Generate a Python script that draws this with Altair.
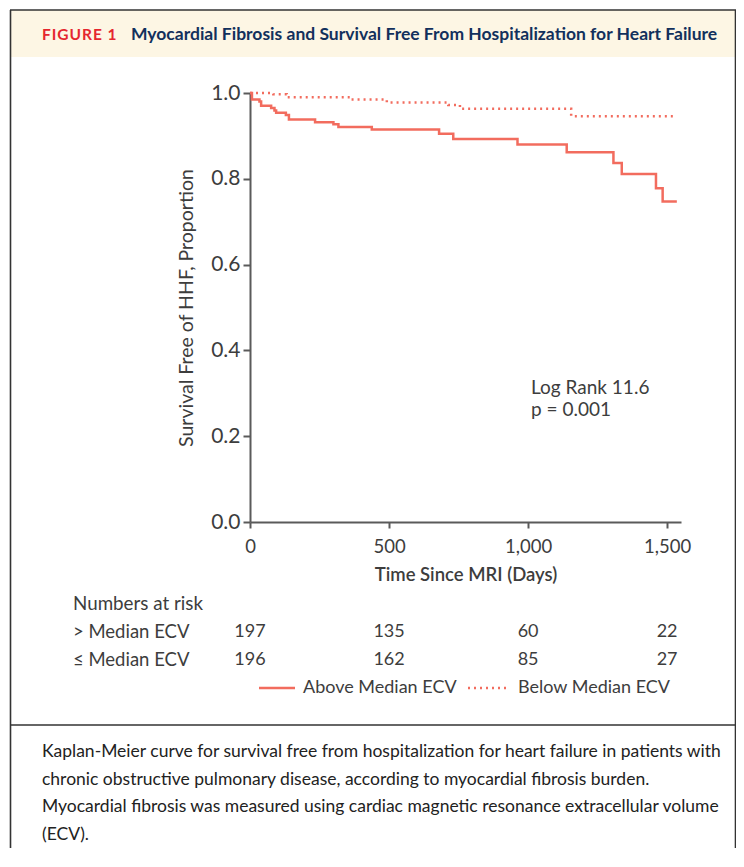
import altair as alt
import pandas as pd

# ---- data ----
above_days = [0, 7, 34, 40, 76, 88, 94, 129, 140, 234, 300, 318, 438, 680, 731, 962, 1139, 1307, 1337, 1460, 1484, 1535]
above_surv = [1.0, 0.985, 0.980, 0.970, 0.965, 0.959, 0.954, 0.949, 0.938, 0.932, 0.927, 0.921, 0.915, 0.905, 0.893, 0.880, 0.862, 0.837, 0.811, 0.778, 0.747, 0.747]
below_days = [0, 84, 132, 360, 492, 713, 755, 1155, 1535]
below_surv = [1.0, 0.997, 0.990, 0.985, 0.978, 0.972, 0.963, 0.946, 0.946]
groups = ["Above Median ECV", "Below Median ECV"]
risk_days = [0, 500, 1000, 1500]
risk_above = [197, 135, 60, 22]
risk_below = [196, 162, 85, 27]
y_ticks = [0.0, 0.2, 0.4, 0.6, 0.8, 1.0]
x_ticks = [0, 500, 1000, 1500]

curves = pd.DataFrame({
    "day": above_days + below_days,
    "surv": above_surv + below_surv,
    "group": [groups[0]] * len(above_days) + [groups[1]] * len(below_days),
})
risk_a = pd.DataFrame({"day": risk_days, "n": risk_above})
risk_b = pd.DataFrame({"day": risk_days, "n": risk_below})

RED = "#f26c5e"
TXT = "#3d3d3d"
AX = "#5a5a5a"
FONT = "Lato"
W, H = 431, 429
OX, OY = 250, 93  # page position of plot origin
DOT = [2, 4]


def px(x):
    return x - OX


def py(y):
    return y - OY


xs = alt.Scale(domain=[0, 1550], nice=False)
ys = alt.Scale(domain=[0, 1], nice=False)
x_axis = alt.Axis(values=x_ticks, format=",d", title=None, grid=False,
                  labelFontSize=18.5, labelColor=TXT, labelFont=FONT, labelFlush=False,
                  tickSize=6, tickWidth=2, tickColor=AX, domainColor=AX,
                  domainWidth=2, labelPadding=9)
y_axis = alt.Axis(values=y_ticks, format=".1f", title=None, grid=False,
                  labelFontSize=21, labelColor=TXT, labelFont=FONT, labelFlush=False,
                  tickSize=7, tickWidth=2, tickColor=AX, domainColor=AX,
                  domainWidth=2, labelPadding=3)
one = pd.DataFrame({"k": [0]})


def text(t, x, y, size=17, color=TXT, weight="normal", align="left", angle=0, **kw):
    return alt.Chart(one).mark_text(text=t, fontSize=size, color=color, font=FONT, fontWeight=weight,
                                    align=align, baseline="middle", angle=angle, **kw).encode(
        x=alt.value(px(x)), y=alt.value(py(y)))


def rule(x1, y1, x2, y2, color="#333333", width=1.6, dash=None):
    kw = {"color": color, "strokeWidth": width}
    if dash:
        kw["strokeDash"] = dash
    return alt.Chart(one).mark_rule(**kw).encode(
        x=alt.value(px(x1)), x2=alt.value(px(x2)), y=alt.value(py(y1)), y2=alt.value(py(y2)))


header = alt.Chart(one).mark_rect(color="#fdf6e4").encode(
    x=alt.value(px(10)), x2=alt.value(px(736)), y=alt.value(py(10)), y2=alt.value(py(57)))

frame = [
    rule(10, 10, 736, 10),
    rule(10.5, 10, 10.5, 848),
    rule(735.5, 10, 735.5, 848),
    rule(10, 725, 736, 725),
]

lines = alt.Chart(curves).mark_line(interpolate="step-after", strokeWidth=2.5, color=RED).encode(
    x=alt.X("day:Q", scale=xs, axis=x_axis),
    y=alt.Y("surv:Q", scale=ys, axis=y_axis),
    strokeDash=alt.StrokeDash("group:N", scale=alt.Scale(domain=groups, range=[[1, 0], DOT]), legend=None),
)

risk1 = alt.Chart(risk_a).mark_text(fontSize=18, color=TXT, font=FONT, baseline="middle").encode(
    x=alt.X("day:Q", scale=xs, axis=x_axis), y=alt.value(py(632)), text="n:Q")
risk2 = alt.Chart(risk_b).mark_text(fontSize=18, color=TXT, font=FONT, baseline="middle").encode(
    x=alt.X("day:Q", scale=xs, axis=x_axis), y=alt.value(py(660)), text="n:Q")

caption = ("Kaplan-Meier curve for survival free from hospitalization for heart failure in patients with\n"
           "chronic obstructive pulmonary disease, according to myocardial fibrosis burden.\n"
           "Myocardial fibrosis was measured using cardiac magnetic resonance extracellular volume\n"
           "(ECV).")

HS = "\u200a"
texts = [
    text(HS.join("FIGURE 1"), 42, 35, size=15.5, color="#e5262f", weight="bold"),
    text("Myocardial Fibrosis and Survival Free From Hospitalization for Heart Failure", 131, 35,
         size=17.5, color="#12305c", weight="bold"),
    text("Survival Free of HHF, Proportion", 187, 308, size=19.5, align="center", angle=270),
    text("Time Since MRI (Days)", 466, 575, size=18.5, weight=600, align="center"),
    text("Log Rank 11.6", 531, 388, size=19),
    text("p = 0.001", 531, 410, size=19),
    text("Numbers at risk", 73, 604, size=18.8),
    text("> Median ECV", 73, 632, size=18.5),
    text("\u2264 Median ECV", 73, 660, size=18.5),
    text("Above Median ECV", 303, 688, size=18),
    text("Below Median ECV", 518, 688, size=18),
    alt.Chart(one).mark_text(text=caption.split("\n"), fontSize=17.5, color="#222222", font=FONT,
                             align="left", baseline="middle", lineHeight=27.5).encode(
        x=alt.value(px(42)), y=alt.value(py(752))),
]

legend_marks = [
    rule(259, 688, 295, 688, color=RED, width=2.5),
    rule(468, 688, 509, 688, color=RED, width=2.5, dash=DOT),
]

chart = alt.layer(header, *frame, lines, risk1, risk2, *legend_marks, *texts).properties(
    width=W, height=H,
    autosize=alt.AutoSizeParams(type="none"),
    padding={"left": 242, "top": 85, "right": 55, "bottom": 326},
).configure_view(strokeWidth=0)

chart.save("out.html", embed_options={"renderer": "svg", "actions": False})
